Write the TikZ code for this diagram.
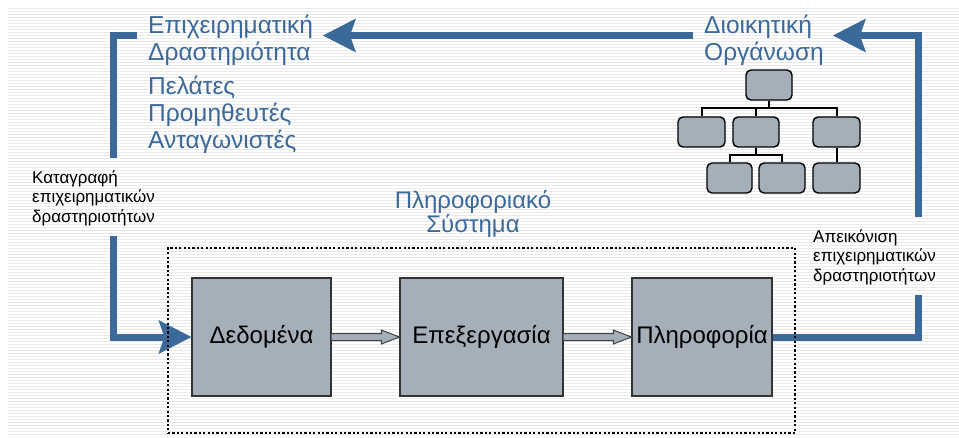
\documentclass[tikz,border=0pt]{standalone}
\usepackage{fontspec}
\setmainfont{Liberation Sans}
\usetikzlibrary{arrows.meta,calc}

\definecolor{flowblue}{RGB}{59,106,154}
\definecolor{boxgrey}{RGB}{164,175,185}
\definecolor{stripegrey}{RGB}{234,234,234}

\begin{document}
\begin{tikzpicture}[x=1pt,y=-1pt,
  flow/.style={draw=flowblue, line width=7pt, line join=miter},
  flowhead/.style={-{Stealth[length=33pt,width=34pt,inset=6pt,line width=0pt]}},
  bluetext/.style={text=flowblue, inner sep=0pt, align=left, anchor=north west,
    font=\fontsize{24.5}{27}\selectfont},
  smalltext/.style={text=black, inner sep=0pt, align=left, anchor=north west,
    font=\fontsize{17}{19.5}\selectfont},
  stage/.style={draw=black!80, line width=1.2pt, fill=boxgrey, minimum width=#1,
    minimum height=118pt, inner sep=1pt, font=\fontsize{24}{28}\selectfont},
  hollow/.style={draw=black!75, line width=1pt, fill=boxgrey, line join=miter},
  orgbox/.style={draw=black, line width=1.4pt, fill=boxgrey, rounded corners=5pt,
    minimum width=46pt, minimum height=30pt, inner sep=0pt},
  orgline/.style={draw=black, line width=2pt},
  sysframe/.style={draw=black, line width=2.6pt, dash pattern=on 2.2pt off 2.2pt,
    minimum width=627pt, minimum height=185pt, inner sep=0pt}
]
% canvas and striped backdrop
\fill[white] (0,0) rectangle (959,437);
\useasboundingbox (0,0) rectangle (959,437);
\foreach \yy in {8.5,11.5,...,434.5}
  \draw[stripegrey, line width=1.3pt] (8,\yy) -- (959,\yy);

% labels
\node[bluetext] (act) at (148,13) {\rule{0pt}{20pt}Επιχειρηματική\\Δραστηριότητα};
\node[bluetext] (parties) at (148,74) {\rule{0pt}{20pt}Πελάτες\\Προμηθευτές\\Ανταγωνιστές};
\node[bluetext] (mgmt) at (704,13) {\rule{0pt}{20pt}Διοικητική\\Οργάνωση};
\node[text=flowblue, inner sep=0pt, align=center, anchor=north,
  font=\fontsize{24}{22}\selectfont] (infosys) at (473,190)
  {\rule{0pt}{18pt}Πληροφοριακό\\Σύστημα};
\node[smalltext] (record) at (32,170) {\rule{0pt}{13pt}Καταγραφή\\επιχειρηματικών\\δραστηριοτήτων};
\node[smalltext] (depict) at (813,229) {\rule{0pt}{13pt}Απεικόνιση\\επιχειρηματικών\\δραστηριοτήτων};

% processing chain
\node[stage=139pt] (data) at (261.5,337) {Δεδομένα};
\node[stage=163pt] (proc) at (481.5,337) {Επεξεργασία};
\node[stage=140pt] (info) at (702,337) {Πληροφορία};

\draw[hollow] ($(data.east)+(0,-3.5)$) -- ($(proc.west)+(-18,-3.5)$) -- ($(proc.west)+(-18,-7)$)
  -- (proc.west) -- ($(proc.west)+(-18,7)$) -- ($(proc.west)+(-18,3.5)$) -- ($(data.east)+(0,3.5)$);
\draw[hollow] ($(proc.east)+(0,-3.5)$) -- ($(info.west)+(-18,-3.5)$) -- ($(info.west)+(-18,-7)$)
  -- (info.west) -- ($(info.west)+(-18,7)$) -- ($(info.west)+(-18,3.5)$) -- ($(proc.east)+(0,3.5)$);

% organisation chart
\node[orgbox] (o1) at (769,85) {};
\node[orgbox, minimum width=47pt] (o21) at (701.5,132) {};
\node[orgbox] (o22) at (756,132) {};
\node[orgbox, minimum width=47pt] (o23) at (836.5,132) {};
\node[orgbox, minimum width=45pt] (o31) at (729.5,178) {};
\node[orgbox] (o32) at (782,178) {};
\node[orgbox, minimum width=47pt] (o33) at (836.5,178) {};
\coordinate (bus1) at (0,108);
\coordinate (bus2) at (0,155);
\draw[orgline] (o1.south) -- (o1.south |- bus1);
\draw[orgline] (o21.north) -- (o21.north |- bus1) -- (o23.north |- bus1) -- (o23.north);
\draw[orgline] (o22.north) -- (o22.north |- bus1);
\draw[orgline] (o22.south) -- (o22.south |- bus2);
\draw[orgline] (o31.north) -- (o31.north |- bus2) -- (o32.north |- bus2) -- (o32.north);
\draw[orgline] (o23.south) -- (o33.north);

% flow of activity through the system
\coordinate (topStart) at (693,35.5);
\coordinate (topTip) at (323,35.5);
\draw[flow, flowhead] (topStart) -- (topTip);

\coordinate (brTop) at (137,35.5);
\coordinate (brBottom) at (113,158);
\draw[flow] (brTop) -| (brBottom);
\coordinate (inTop) at (113,236);
\draw[flow, flowhead] (inTop) |- (data.west);

\coordinate (outUp) at (918.5,295);
\draw[flow] (info.east) -| (outUp);
\coordinate (backUp) at (918.5,217);
\coordinate (backTip) at (833,35.5);
\draw[flow, flowhead] (backUp) |- (backTip);

% boundary of the information system
\node[sysframe] (sys) at (481.5,340.5) {};
\end{tikzpicture}
\end{document}
